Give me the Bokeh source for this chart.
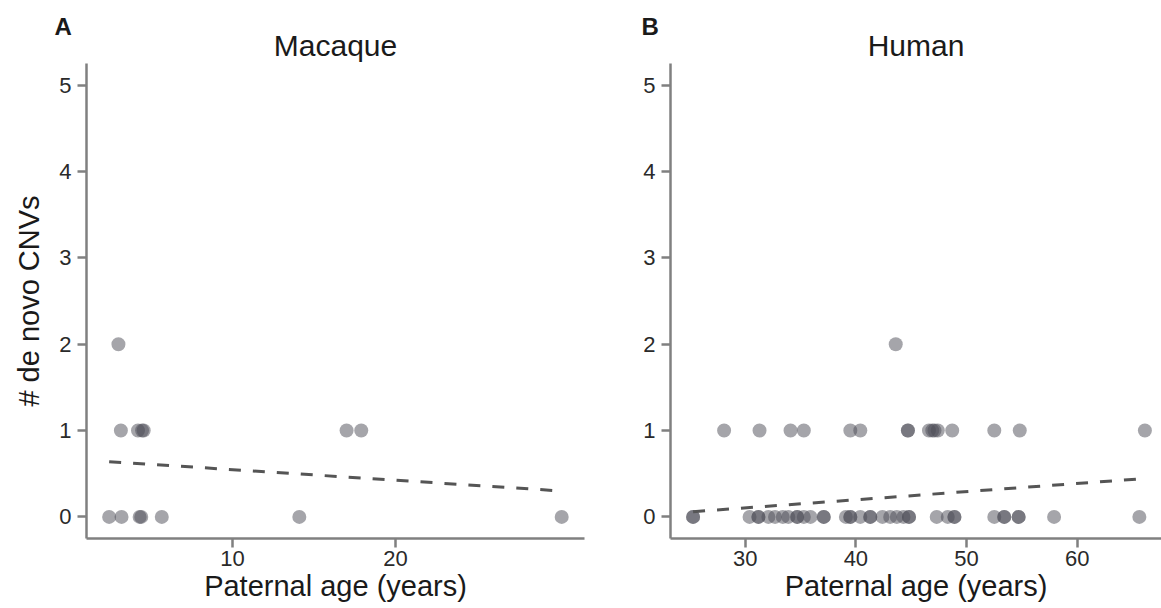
from bokeh.plotting import figure
from bokeh.layouts import row
from bokeh.models import Title, FixedTicker, Range1d
from bokeh.embed import file_html
from bokeh.resources import INLINE

# ---- data ----
mac_age = [2.43, 3.19, 4.3, 4.4, 5.66, 14.1, 30.2,
           3.15, 4.2, 4.45, 4.55, 17.0, 17.9,
           3.0]
mac_cnv = [0, 0, 0, 0, 0, 0, 0,
           1, 1, 1, 1, 1, 1,
           2]
hum_age = [25.3, 25.3, 30.4, 31.2, 31.2, 32.1, 32.7, 33.4, 33.9, 34.7, 34.7, 35.3, 35.9,
           37.1, 37.1, 39.1, 39.5, 39.5, 40.4, 41.3, 41.3, 42.4, 43.1, 43.7, 44.3, 44.8,
           44.8, 47.3, 48.3, 48.9, 48.9, 52.5, 53.4, 53.4, 54.7, 54.7, 57.9, 65.6,
           28.1, 31.3, 34.1, 35.3, 39.5, 40.4, 44.7, 44.7, 46.6, 46.9, 47.1, 47.4, 48.7,
           52.5, 54.8, 66.1,
           43.6]
hum_cnv = [0] * 38 + [1] * 16 + [2]
mac_fit_age = [2.43, 30.2]
mac_fit_cnv = [0.64, 0.30]
hum_fit_age = [25.3, 65.6]
hum_fit_cnv = [0.06, 0.44]
mac_xticks = [10, 20]
hum_xticks = [30, 40, 50, 60]
y_ticks = [0, 1, 2, 3, 4, 5]

FONT = "Liberation Sans"
AXIS_COL = "#808080"
PT_COL = "#4b4b55"
LINE_COL = "#555555"
TXT = "#1a1a1a"


def panel(width, bl, br, xr, xticks, title, letter, letter_off, ylabel=None):
    p = figure(width=width, height=608, x_range=Range1d(*xr), y_range=Range1d(-0.25, 5.25),
               output_backend="svg", toolbar_location=None, title=None,
               min_border_left=bl, min_border_right=br, min_border_top=63, min_border_bottom=70)
    p.outline_line_color = None
    p.xgrid.visible = False
    p.ygrid.visible = False
    p.background_fill_color = "white"
    p.border_fill_color = "white"
    for ax, ticks in ((p.xaxis[0], xticks), (p.yaxis[0], y_ticks)):
        ax.ticker = FixedTicker(ticks=ticks)
        ax.axis_line_color = AXIS_COL
        ax.axis_line_width = 2.5
        ax.major_tick_line_color = AXIS_COL
        ax.major_tick_line_width = 2.5
        ax.major_tick_out = 9
        ax.major_tick_in = 0
        ax.minor_tick_line_color = None
        ax.major_label_text_font = FONT
        ax.major_label_text_font_size = "22px"
        ax.major_label_text_color = "#2a2a2a"
        ax.axis_label_text_font = FONT
        ax.axis_label_text_font_size = "29px"
        ax.axis_label_text_font_style = "normal"
        ax.axis_label_text_color = TXT
    p.xaxis.major_label_standoff = 3
    p.yaxis.major_label_standoff = 6
    p.xaxis.axis_label = "Paternal age (years)"
    p.xaxis.axis_label_standoff = 1
    if ylabel:
        p.yaxis.axis_label = ylabel
        p.yaxis.axis_label_standoff = 11
    p.add_layout(Title(text=title, align="center", text_font=FONT, text_font_size="30px",
                       text_font_style="normal", text_color=TXT, standoff=3), "above")
    p.add_layout(Title(text=letter, align="left", offset=letter_off, text_font=FONT,
                       text_font_size="24px", text_font_style="bold", text_color=TXT,
                       standoff=-28), "above")
    return p


p1 = panel(592, 86, 8, (1.04, 31.6), mac_xticks, "Macaque", "A", -32, ylabel="# de novo CNVs")
p2 = panel(569, 78, 0, (23.26, 67.6), hum_xticks, "Human", "B", -29)

for p, ax, cy, fx, fy in ((p1, mac_age, mac_cnv, mac_fit_age, mac_fit_cnv),
                          (p2, hum_age, hum_cnv, hum_fit_age, hum_fit_cnv)):
    p.scatter(ax, cy, size=14, fill_color=PT_COL, fill_alpha=0.5, line_color=None)
    p.line(fx, fy, line_color=LINE_COL, line_width=3, line_dash="12 12")

layout = row(p1, p2)
open("out.html", "w").write(file_html(layout, INLINE))
